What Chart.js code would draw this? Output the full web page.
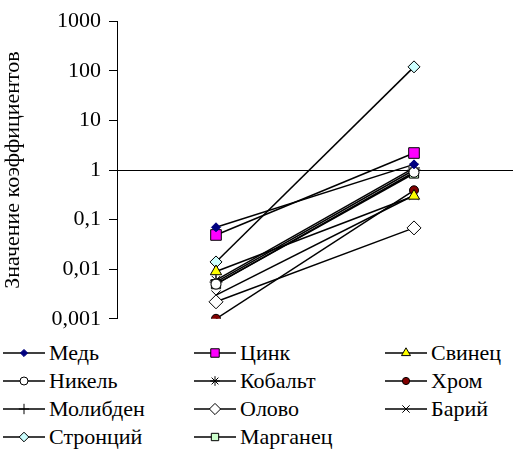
<!DOCTYPE html>
<html><head><meta charset="utf-8">
<script src="https://cdn.jsdelivr.net/npm/chart.js@4"></script>
<style>
html,body{margin:0;padding:0;background:#fff;width:513px;height:450px;overflow:hidden;font-family:"Liberation Serif","Tinos","Times New Roman",Times,"DejaVu Serif",serif;}
#wrap{position:absolute;left:0;top:0;width:513px;height:340px;}
.lg{position:absolute;display:flex;align-items:center;font-size:22px;line-height:26px;color:#000;white-space:nowrap;}
.lg canvas{margin-right:4px;}
</style></head><body>
<div id="wrap"><canvas id="c" width="513" height="340"></canvas></div>
<div id="legend"></div>
<script>
const categories = ['1', '2'];
const yTickValues = [0.001, 0.01, 0.1, 1, 10, 100, 1000];
const yTickLabels = ['0,001', '0,01', '0,1', '1', '10', '100', '1000'];
const seriesNames = ['Медь','Цинк','Свинец','Никель','Кобальт','Хром','Молибден','Олово','Барий','Стронций','Марганец'];
const copper = [0.07, 1.3];
const zinc = [0.049, 2.2];
const lead = [0.009, 0.3];
const nickel = [0.005, 0.9];
const cobalt = [0.006, 1.1];
const chromium = [0.001, 0.39];
const molybdenum = [0.0055, 1.0];
const tin = [0.0022, 0.068];
const barium = [0.003, 0.31];
const strontium = [0.014, 120];
const manganese = [0.005, 0.85];
const seriesValues = [copper, zinc, lead, nickel, cobalt, chromium, molybdenum, tin, barium, strontium, manganese];

const styles = [
  {pointStyle:'rectRot', radius:4.5, bg:'#000080', border:'#000080', bw:1},
  {pointStyle:'rect', radius:7.5, bg:'#ff00ff', border:'#000000', bw:1},
  {pointStyle:'triangle', radius:6.5, bg:'#ffff00', border:'#000000', bw:1},
  {pointStyle:'circle', radius:5, bg:'#ffffff', border:'#000000', bw:1},
  {pointStyle:'star', radius:6, bg:'#000000', border:'#000000', bw:1},
  {pointStyle:'circle', radius:4.5, bg:'#800000', border:'#000000', bw:1},
  {pointStyle:'cross', radius:6.5, bg:'#000000', border:'#000000', bw:1},
  {pointStyle:'rectRot', radius:7, bg:'#ffffff', border:'#000000', bw:1},
  {pointStyle:'crossRot', radius:6.5, bg:'#000000', border:'#000000', bw:1},
  {pointStyle:'rectRot', radius:6, bg:'#ccffff', border:'#000000', bw:1},
  {pointStyle:'rect', radius:6.5, bg:'#ccffcc', border:'#000000', bw:1}
];

const datasets = seriesNames.map((n,i)=>({
  label:n, data:seriesValues[i], borderColor:'#000', borderWidth:1.5,
  pointStyle:styles[i].pointStyle, pointRadius:styles[i].radius, pointHoverRadius:styles[i].radius,
  pointBackgroundColor:styles[i].bg, pointBorderColor:styles[i].border, pointBorderWidth:styles[i].bw,
  tension:0, fill:false
}));

const fam = '"Liberation Serif","Tinos","Times New Roman",Times,"DejaVu Serif",serif';
const font = {family:fam, size:22};
new Chart(document.getElementById('c'), {
  type:'line',
  data:{labels:categories, datasets},
  options:{
    responsive:false, animation:false, events:[],
    layout:{autoPadding:false, padding:{top:8,right:0,bottom:0,left:0}},
    plugins:{legend:{display:false}, tooltip:{enabled:false}},
    scales:{
      x:{type:'category', offset:true, position:{y:1},
         ticks:{display:false}, grid:{display:false, drawTicks:false},
         border:{display:true, color:'#000', width:1}},
      y:{type:'logarithmic', min:0.001, max:1000,
         afterBuildTicks:s=>{s.ticks = yTickValues.map(v=>({value:v}));},
         afterFit:s=>{s.width = 117;},
         ticks:{font, color:'#000', padding:8, autoSkip:false,
           callback:(v)=>{const k=yTickValues.findIndex(t=>Math.abs(Math.log10(t)-Math.log10(v))<1e-6);return k>=0?yTickLabels[k]:'';}},
         grid:{display:true, drawOnChartArea:false, drawTicks:true, tickLength:8, color:'#000'},
         border:{display:true, color:'#000', width:1},
         title:{display:true, text:'Значение коэффициентов', font, color:'#000', padding:{top:0,bottom:8}}}
    }
  }
});

// legend
const legCols = [3, 194, 385];
const legRows = [353, 381, 409, 437];
const leg = document.getElementById('legend');
seriesNames.forEach((n,i)=>{
  const col=i%3, row=Math.floor(i/3);
  const d=document.createElement('div'); d.className='lg';
  d.style.left=legCols[col]+'px'; d.style.top=(legRows[row]-13)+'px';
  const cv=document.createElement('canvas'); cv.width=42; cv.height=26;
  const ctx=cv.getContext('2d');
  ctx.strokeStyle='#000'; ctx.lineWidth=1.5; ctx.beginPath(); ctx.moveTo(0,13); ctx.lineTo(42,13); ctx.stroke();
  ctx.fillStyle=styles[i].bg; ctx.strokeStyle=styles[i].border; ctx.lineWidth=styles[i].bw;
  Chart.helpers.drawPoint(ctx,{pointStyle:styles[i].pointStyle, radius:styles[i].radius*0.8, borderWidth:styles[i].bw, rotation:0},21,13);
  d.appendChild(cv);
  const s=document.createElement('span'); s.textContent=n; d.appendChild(s);
  leg.appendChild(d);
});
</script>
</body></html>
